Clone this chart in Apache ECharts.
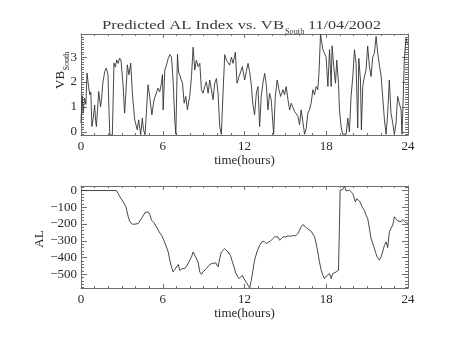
<!DOCTYPE html>
<html>
<head>
<meta charset="utf-8">
<script src="https://cdn.jsdelivr.net/npm/echarts@6/dist/echarts.min.js"></script>
<style>
  html, body { margin: 0; padding: 0; background: #fff; }
  #chart { width: 453px; height: 340px; }
</style>
</head>
<body>
<div id="chart"></div>
<script>
// Time axis (hours of the day)
const hourTicks = [0, 6, 12, 18, 24];

// Upper panel: southward solar-wind VB (mV/m)
const vbTicks = [0, 1, 2, 3];
const vbRange = [-0.13, 3.93];
const vbTime = [
  0.00, 0.08, 0.16, 0.26, 0.36, 0.44, 0.55, 0.64, 0.72, 0.80, 0.90, 1.00, 1.07, 1.13, 1.22, 1.30,
  1.44, 1.52, 1.60, 1.74, 1.86, 1.98, 2.05, 2.12, 2.30, 2.42, 2.52, 2.62, 2.72, 2.84, 2.94, 3.08,
  3.20, 3.30, 3.40, 3.52, 3.65, 3.77, 3.94, 4.13, 4.23, 4.38, 4.50, 4.58, 4.70, 4.82, 4.92, 5.04,
  5.20, 5.36, 5.48, 5.65, 5.78, 5.90, 5.98, 6.03, 6.15, 6.27, 6.40, 6.52, 6.64, 6.76, 6.88, 6.96,
  7.08, 7.16, 7.25, 7.35, 7.45, 7.57, 7.69, 7.81, 7.90, 7.98, 8.11, 8.23, 8.35, 8.47, 8.59, 8.72,
  8.84, 8.96, 9.08, 9.20, 9.33, 9.45, 9.57, 9.69, 9.81, 9.94, 10.06, 10.18, 10.30, 10.42, 10.55, 10.67,
  10.79, 10.91, 11.04, 11.16, 11.33, 11.45, 11.60, 11.72, 11.84, 12.01, 12.13, 12.26, 12.38, 12.50, 12.62, 12.74,
  12.87, 12.99, 13.11, 13.23, 13.35, 13.48, 13.60, 13.72, 13.84, 13.96, 14.14, 14.26, 14.40, 14.53, 14.65, 14.82,
  14.94, 15.06, 15.19, 15.31, 15.43, 15.55, 15.67, 15.80, 15.92, 16.04, 16.16, 16.28, 16.41, 16.53, 16.65, 16.77,
  16.89, 17.02, 17.14, 17.26, 17.38, 17.47, 17.58, 17.75, 17.87, 17.99, 18.12, 18.24, 18.31, 18.36, 18.43, 18.55,
  18.68, 18.77, 18.90, 18.97, 19.09, 19.21, 19.46, 19.58, 19.70, 19.82, 19.95, 20.07, 20.19, 20.31, 20.39, 20.51,
  20.58, 20.68, 20.80, 20.92, 21.04, 21.17, 21.29, 21.41, 21.53, 21.66, 21.78, 21.90, 22.02, 22.14, 22.27, 22.39,
  22.51, 22.63, 22.75, 22.88, 23.00, 23.12, 23.24, 23.36, 23.49, 23.56, 23.66, 23.73, 23.85, 23.97
];
const vbValue = [
  0.35, 1.45, 0.75, 1.35, 1.10, 2.36, 1.85, 1.49, 1.60, 0.21, 0.55, 1.08, 0.45, 0.21, 0.95, 1.62,
  1.00, 1.40, 1.95, 2.42, 2.56, 2.29, 0.90, -0.13, -0.13, 2.76, 2.60, 2.89, 2.75, 2.96, 2.85, 1.95,
  0.75, 1.60, 2.69, 2.29, 2.76, 1.55, 0.48, 0.08, 0.48, -0.12, 0.55, 0.10, -0.12, -0.12, 1.89, 1.42,
  0.68, 1.28, 1.30, 1.75, 1.60, 1.95, 2.30, 0.88, 2.48, 2.68, 2.95, 3.10, 3.00, 2.08, 0.50, -0.10,
  3.12, 2.40, 2.28, 2.10, 1.95, 1.15, 1.42, 0.88, 1.20, 1.42, 2.22, 3.40, 2.48, 2.88, 2.62, 2.75,
  1.69, 1.55, 1.82, 2.01, 1.55, 2.08, 2.14, 1.29, 1.95, 2.14, 1.55, 0.21, -0.10, 1.50, 3.10, 2.88,
  2.80, 2.68, 3.00, 2.75, 3.20, 1.95, 2.22, 2.41, 2.62, 2.08, 2.41, 2.75, 2.41, 1.89, 1.08, 0.68,
  1.55, 1.82, 0.21, 1.42, 1.95, 2.35, 1.89, 0.88, 1.55, 1.29, -0.10, 1.42, 2.08, 1.69, 1.42, 1.69,
  1.49, 1.82, 1.29, 0.88, 1.15, 1.15, 0.82, 0.75, 0.62, 0.28, 0.88, 0.41, -0.10, 0.15, 0.75, 0.88,
  1.15, 1.69, 1.49, 1.82, 1.69, 2.40, 3.93, 3.30, 3.15, 3.00, 1.82, 3.30, 2.50, 1.82, 3.45, 2.62,
  1.95, 2.88, 1.95, 0.88, 0.21, -0.10, -0.10, 0.55, 0.00, 1.42, 2.22, 3.30, 2.75, 0.15, 2.95, 2.08,
  0.08, 1.82, 2.22, 2.48, 3.45, 2.62, 2.22, 3.00, 3.15, 3.83, 3.15, 2.68, 2.28, 1.42, 0.48, -0.10,
  0.75, 2.08, 0.75, 0.35, -0.10, 0.35, 1.42, 1.15, 0.88, -0.10, 1.55, 2.88, 3.75, 3.55
];

// Lower panel: predicted AL index (nT)
const alTicks = [-500, -400, -300, -200, -100, 0];
const alRange = [-582, 27];
const alTime = [
  0.00, 2.61, 2.86, 3.10, 3.30, 3.47, 3.59, 3.78, 3.96, 4.20, 4.32, 4.52, 4.69, 4.81, 4.93, 5.05,
  5.18, 5.35, 5.54, 5.74, 5.91, 6.08, 6.27, 6.40, 6.52, 6.64, 6.76, 6.88, 7.00, 7.13, 7.25, 7.45,
  7.62, 7.79, 7.98, 8.11, 8.23, 8.35, 8.47, 8.59, 8.72, 8.84, 8.96, 9.08, 9.20, 9.40, 9.57, 9.69,
  9.89, 10.06, 10.18, 10.30, 10.42, 10.55, 10.62, 10.79, 10.96, 11.11, 11.23, 11.35, 11.47, 11.60, 11.72, 11.84,
  11.96, 12.08, 12.26, 12.38, 12.50, 12.62, 12.74, 12.91, 13.11, 13.28, 13.43, 13.60, 13.79, 13.96, 14.09, 14.21,
  14.33, 14.45, 14.58, 14.70, 14.82, 15.01, 15.19, 15.36, 15.55, 15.75, 15.92, 16.04, 16.16, 16.28, 16.41, 16.53,
  16.72, 16.89, 17.14, 17.26, 17.38, 17.50, 17.63, 17.75, 17.87, 17.99, 18.12, 18.24, 18.36, 18.48, 18.60, 18.73,
  18.90, 19.02, 19.12, 19.21, 19.34, 19.46, 19.58, 19.70, 19.82, 19.95, 20.14, 20.24, 20.36, 20.48, 20.63, 20.80,
  20.92, 21.04, 21.17, 21.29, 21.46, 21.61, 21.73, 21.90, 22.02, 22.14, 22.27, 22.39, 22.51, 22.63, 22.75, 22.88,
  23.00, 23.12, 23.24, 23.36, 23.49, 23.61, 23.73, 23.85, 24.00
];
const alValue = [
  0, 0, -38, -68, -98, -157, -187, -201, -201, -197, -187, -157, -133, -127, -127, -143,
  -177, -191, -217, -247, -267, -297, -337, -367, -416, -456, -486, -472, -466, -442, -476, -466,
  -466, -446, -416, -396, -367, -386, -392, -426, -486, -500, -486, -496, -466, -446, -436, -432,
  -432, -456, -406, -367, -357, -347, -357, -367, -386, -426, -456, -492, -496, -526, -536, -506,
  -526, -536, -566, -582, -536, -476, -416, -367, -327, -307, -303, -317, -307, -297, -307, -277,
  -273, -277, -297, -287, -277, -277, -271, -273, -269, -271, -257, -237, -217, -203, -207, -221,
  -233, -243, -277, -317, -367, -426, -476, -506, -526, -512, -506, -496, -526, -496, -486, -486,
  -476, 2, -8, 6, 27, -2, -12, 2, 2, -18, -68, -48, -48, -68, -98, -118,
  -147, -167, -227, -287, -327, -367, -396, -416, -396, -367, -327, -307, -341, -247, -227, -207,
  -157, -167, -181, -171, -187, -173, -177, -193, -195
];

// Minor tick positions along the value axes
function minorSteps(lo, hi, step) {
  const out = [];
  const start = Math.ceil(lo / step - 1e-9);
  const end = Math.floor(hi / step + 1e-9);
  for (let k = start; k <= end; k++) out.push(+(k * step).toFixed(6));
  return out;
}
const vbMinor = minorSteps(vbRange[0], vbRange[1], 0.1);
const alMinor = minorSteps(alRange[0], alRange[1], 20);

const FONT = '"Liberation Serif", "DejaVu Serif", serif';
const INK = '#2a2a2a';
const TITLE_INK = '#3a3a3a';
const FRAME = '#6e6e6e';

const measureCtx = document.createElement('canvas').getContext('2d');
function textWidth(str, size) {
  measureCtx.font = size + 'px ' + FONT;
  return measureCtx.measureText(str).width;
}
const minusSign = v => String(v).replace('-', '\u2212');

const grids = [
  { left: 81, top: 34, width: 327, height: 101 },
  { left: 81, top: 186, width: 327, height: 102 }
];

function timeAxes(g, labelMargin) {
  const common = {
    gridIndex: g, type: 'value', min: 0, max: 24, interval: 6,
    axisLine: { show: true, onZero: false, lineStyle: { color: FRAME, width: 1 } },
    axisTick: { show: true, inside: true, length: 4, lineStyle: { color: FRAME } },
    minorTick: { show: true, splitNumber: 6, length: 2, lineStyle: { color: FRAME } },
    splitLine: { show: false }, minorSplitLine: { show: false }
  };
  return [
    Object.assign({}, common, {
      position: 'bottom',
      axisLabel: { show: true, margin: labelMargin, fontFamily: FONT, fontSize: 13, color: INK,
        customValues: hourTicks },
      name: 'time(hours)', nameLocation: 'middle', nameGap: 17,
      nameTextStyle: { fontFamily: FONT, fontSize: 13, color: INK, verticalAlign: 'top' }
    }),
    Object.assign({}, common, { position: 'top', axisLabel: { show: false } })
  ];
}

function valueAxes(g, range, majors, minors) {
  const base = {
    gridIndex: g, type: 'value', min: range[0], max: range[1], scale: true,
    splitLine: { show: false }
  };
  const out = [];
  ['left', 'right'].forEach(side => {
    out.push(Object.assign({}, base, {
      position: side,
      axisLine: { show: true, onZero: false, lineStyle: { color: FRAME, width: 1 } },
      axisTick: { show: true, inside: true, length: 6, customValues: majors, lineStyle: { color: FRAME } },
      axisLabel: side === 'left'
        ? { show: true, margin: 4, fontFamily: FONT, fontSize: 13, color: INK,
            customValues: majors, formatter: minusSign }
        : { show: false }
    }));
    out.push(Object.assign({}, base, {
      position: side,
      axisLine: { show: false, onZero: false },
      axisTick: { show: true, inside: true, length: 3, customValues: minors, lineStyle: { color: FRAME } },
      axisLabel: { show: false }
    }));
  });
  return out;
}

// Title pieces, stretched to the wide stroke-font look
const titleSize = 13.5;
const titleMain = 'Predicted AL Index vs. VB';
const titleDate = '11/04/2002';
const titleScale = 182 / textWidth(titleMain, titleSize);
const dateScale = 73 / textWidth(titleDate, titleSize);
const vbW = textWidth('VB', 13);

const chart = echarts.init(document.getElementById('chart'), null, { renderer: 'canvas' });
chart.setOption({
  animation: false,
  backgroundColor: '#ffffff',
  grid: grids,
  xAxis: [].concat(timeAxes(0, 5), timeAxes(1, 5)),
  yAxis: [].concat(valueAxes(0, vbRange, vbTicks, vbMinor), valueAxes(1, alRange, alTicks, alMinor)),
  series: [
    {
      type: 'line', xAxisIndex: 0, yAxisIndex: 0, showSymbol: false, symbol: 'none',
      lineStyle: { color: '#333', width: 0.9 },
      data: vbTime.map((t, i) => [t, vbValue[i]])
    },
    {
      type: 'line', xAxisIndex: 2, yAxisIndex: 4, showSymbol: false, symbol: 'none',
      lineStyle: { color: '#333', width: 0.9 },
      data: alTime.map((t, i) => [t, alValue[i]])
    }
  ],
  graphic: [
    { type: 'text', x: 102, y: 25, scaleX: titleScale,
      style: { text: titleMain, fontFamily: FONT, fontSize: titleSize, fill: TITLE_INK,
        align: 'left', verticalAlign: 'middle', textAlign: 'left', textVerticalAlign: 'middle' } },
    { type: 'text', x: 285, y: 32, scaleX: 1.1,
      style: { text: 'South', fontFamily: FONT, fontSize: 7.5, fill: TITLE_INK,
        align: 'left', verticalAlign: 'middle', textAlign: 'left', textVerticalAlign: 'middle' } },
    { type: 'text', x: 381, y: 25, scaleX: dateScale,
      style: { text: titleDate, fontFamily: FONT, fontSize: titleSize, fill: TITLE_INK,
        align: 'right', verticalAlign: 'middle', textAlign: 'right', textVerticalAlign: 'middle' } },
    // Upper y-axis title, VB with subscript
    { type: 'text', x: 61, y: 89, rotation: Math.PI / 2,
      style: { text: 'VB', fontFamily: FONT, fontSize: 13, fill: INK,
        align: 'left', verticalAlign: 'middle', textAlign: 'left', textVerticalAlign: 'middle' } },
    { type: 'text', x: 66.5, y: 89 - vbW - 0.5, rotation: Math.PI / 2,
      style: { text: 'South', fontFamily: FONT, fontSize: 8, fill: INK,
        align: 'left', verticalAlign: 'middle', textAlign: 'left', textVerticalAlign: 'middle' } },
    // Lower y-axis title
    { type: 'text', x: 40, y: 239, rotation: Math.PI / 2,
      style: { text: 'AL', fontFamily: FONT, fontSize: 13, fill: INK,
        align: 'center', verticalAlign: 'middle', textAlign: 'center', textVerticalAlign: 'middle' } }
  ]
});
</script>
</body>
</html>
